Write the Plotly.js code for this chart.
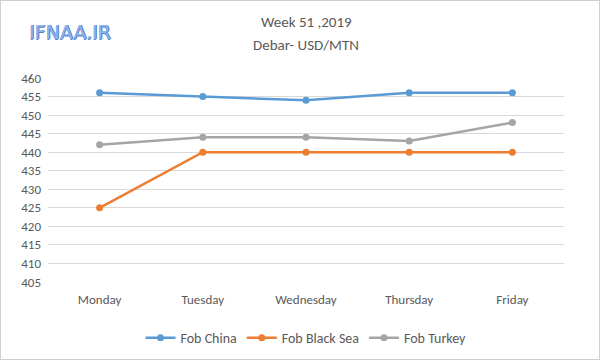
<!DOCTYPE html>
<html>
<head>
<meta charset="utf-8">
<script src="https://cdn.plot.ly/plotly-3.0.1.min.js"></script>
<style>
html,body{margin:0;padding:0;background:#fff;}
#wrap{position:relative;width:600px;height:360px;}
#chart{width:600px;height:360px;}
#frame{position:absolute;left:0;top:0;width:598px;height:358px;border:1px solid #d0d0d0;pointer-events:none;}
</style>
</head>
<body>
<div id="wrap"><div id="chart"></div><div id="frame"></div></div>
<script>
const categories = ["Monday", "Tuesday", "Wednesday", "Thursday", "Friday"];
const fobChina = [456, 455, 454, 456, 456];
const fobBlackSea = [425, 440, 440, 440, 440];
const fobTurkey = [442, 444, 444, 443, 448];
const yTicks = [405, 410, 415, 420, 425, 430, 435, 440, 445, 450, 455, 460];

function tr(name, y, color) {
  return {
    type: 'scatter', mode: 'lines+markers', name: name,
    x: categories, y: y,
    line: {color: color, width: 2.5},
    marker: {color: color, size: 7}
  };
}

const data = [
  tr('Fob China', fobChina, '#5b9bd5'),
  tr('Fob Black Sea', fobBlackSea, '#ed7d31'),
  tr('Fob Turkey', fobTurkey, '#a5a5a5')
];

const fam = 'Carlito, Calibri, "Open Sans", Arial, sans-serif';
const font = {family: fam, color: '#595959'};

const layout = {
  width: 600, height: 360,
  margin: {l: 48, r: 36, t: 78, b: 78, autoexpand: false},
  paper_bgcolor: '#fff', plot_bgcolor: '#fff',
  font: font,
  xaxis: {type: 'category', showgrid: false, zeroline: false, showline: false, ticks: '',
          tickfont: {size: 13, color: '#595959'}, range: [-0.5, 4.5], ticklabelstandoff: 8},
  yaxis: {range: [405, 460], tickvals: yTicks, ticktext: yTicks.map(String),
          showgrid: true, gridcolor: '#d9d9d9', gridwidth: 1, zeroline: false, showline: false,
          ticks: '', tickfont: {size: 13, color: '#595959'}, ticklabelstandoff: 6},
  legend: {orientation: 'h', x: 0.5, xanchor: 'center', yref: 'container', y: 0.061, yanchor: 'middle',
           font: {size: 14, color: '#595959'}},
  showlegend: true,
  annotations: [
    {text: 'Week 51 ,2019', xref: 'paper', yref: 'paper', x: 0.5, y: 1.275, xanchor: 'center', yanchor: 'middle',
     showarrow: false, font: {family: fam, size: 15, color: '#595959'}},
    {text: 'Debar- USD/MTN', xref: 'paper', yref: 'paper', x: 0.5, y: 1.162, xanchor: 'center', yanchor: 'middle',
     showarrow: false, font: {family: fam, size: 15, color: '#595959'}},
    {text: 'IFNAA.IR', xref: 'paper', yref: 'paper', x: -0.04, y: 1.225,
     xanchor: 'left', yanchor: 'middle', showarrow: false,
     font: {family: '"DejaVu Sans", Verdana, sans-serif', size: 19, color: '#8db3ea',
            shadow: '1px 0 0 #4f7fcf, 0 1px 0 #4f7fcf'}}
  ]
};

Plotly.newPlot('chart', data, layout, {displayModeBar: false, staticPlot: true});
</script>
</body>
</html>
